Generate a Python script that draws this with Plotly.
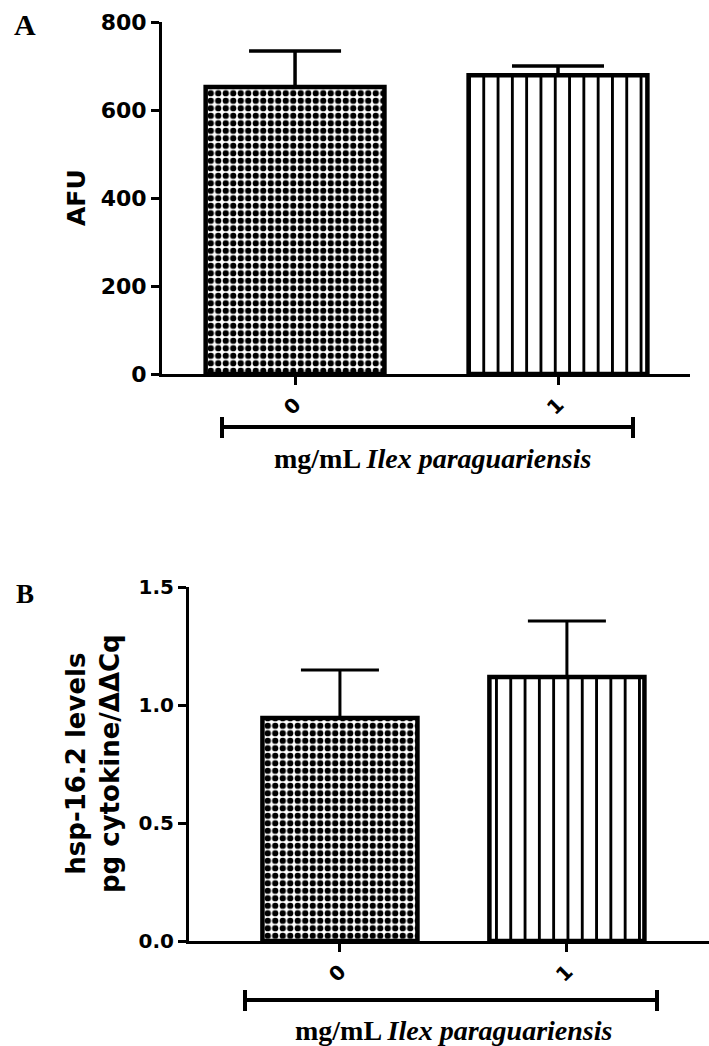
import plotly.graph_objects as go

W, H = 709, 1046

# ---- data ----
categories = ["0", "1"]
afu_mean = [652, 679]
afu_sem = [82, 21]
hsp_mean = [0.945, 1.119]
hsp_sem = [0.203, 0.237]
afu_ticks = [0, 200, 400, 600, 800]
hsp_ticks = [0.0, 0.5, 1.0, 1.5]

xpos = [0, 1]

def px_x(p):
    return p / W

def px_y(p):
    return 1 - p / H

fig = go.Figure()

pattern = dict(shape=[".", "|"], size=[7.5, 14.3], solidity=[0.55, 0.2],
               fgcolor="black", bgcolor="white", fillmode="replace")

fig.add_trace(go.Bar(
    x=xpos, y=afu_mean, width=0.68,
    marker=dict(color="white", line=dict(color="black", width=4.5), pattern=pattern),
    error_y=dict(type="data", array=afu_sem, arrayminus=[0, 0], symmetric=False,
                 color="black", thickness=3.5, width=46),
    xaxis="x", yaxis="y", showlegend=False,
))
fig.add_trace(go.Bar(
    x=xpos, y=hsp_mean, width=0.683,
    marker=dict(color="white", line=dict(color="black", width=4.5), pattern=pattern),
    error_y=dict(type="data", array=hsp_sem, arrayminus=[0, 0], symmetric=False,
                 color="black", thickness=3, width=39),
    xaxis="x2", yaxis="y2", showlegend=False,
))

tickfont_a = dict(family="DejaVu Sans", size=22, color="black", weight="bold")
tickfont_b = dict(family="DejaVu Sans", size=20, color="black", weight="bold")
axis_common = dict(showline=True, linecolor="black", linewidth=3, ticks="outside",
                   ticklen=8, tickwidth=3, tickcolor="black", showgrid=False,
                   zeroline=False, automargin=False)

fig.update_layout(
    width=W, height=H, margin=dict(l=0, r=0, t=0, b=0, autoexpand=False),
    paper_bgcolor="white", plot_bgcolor="white",
    xaxis=dict(domain=[px_x(162), px_x(690)], range=[-0.506, 1.502],
               tickvals=xpos, ticktext=categories, tickangle=-45,
               tickfont=dict(family="DejaVu Sans", size=20, color="black", weight="bold"),
               anchor="y", **axis_common),
    yaxis=dict(domain=[px_y(374), px_y(22)], range=[0, 800],
               tickvals=afu_ticks, tickfont=tickfont_a, anchor="x", **axis_common),
    xaxis2=dict(domain=[px_x(189), 1.0], range=[-0.665, 1.626],
                tickvals=xpos, ticktext=categories, tickangle=-45,
                tickfont=dict(family="DejaVu Sans", size=20, color="black", weight="bold"),
                anchor="y2", **axis_common),
    yaxis2=dict(domain=[px_y(941), px_y(587)], range=[0, 1.5],
                tickvals=hsp_ticks, tickformat=".1f", tickfont=tickfont_b,
                anchor="x2", **axis_common),
)

serif = dict(family="Liberation Serif", color="black")
sans = dict(family="DejaVu Sans", color="black", weight="bold")

annotations = [
    dict(text="<b>A</b>", x=px_x(25), y=px_y(24), font=dict(size=30, **serif)),
    dict(text="<b>B</b>", x=px_x(25), y=px_y(594), font=dict(size=27, **serif)),
    dict(text="AFU", x=px_x(77), y=px_y(198), textangle=-90, font=dict(size=25, **sans)),
    dict(text="hsp-16.2 levels<br>pg cytokine/ΔΔCq", x=px_x(93), y=px_y(764),
         textangle=-90, font=dict(size=26, **sans)),
    dict(text="<b>mg/mL <i>Ilex paraguariensis</i></b>", x=px_x(432), y=px_y(458),
         font=dict(size=28, **serif)),
    dict(text="<b>mg/mL <i>Ilex paraguariensis</i></b>", x=px_x(453), y=px_y(1030),
         font=dict(size=28, **serif)),
]
for a in annotations:
    a.update(xref="paper", yref="paper", showarrow=False, xanchor="center", yanchor="middle")
fig.update_layout(annotations=annotations)

# group brackets
shapes = []
for (xl, xr, yc) in [(222, 633, 427), (245, 657, 1000)]:
    line = dict(color="black", width=4)
    shapes.append(dict(type="line", xref="paper", yref="paper",
                       x0=px_x(xl), x1=px_x(xr), y0=px_y(yc), y1=px_y(yc), line=line))
    for xe in (xl, xr):
        shapes.append(dict(type="line", xref="paper", yref="paper",
                           x0=px_x(xe), x1=px_x(xe), y0=px_y(yc - 10), y1=px_y(yc + 11),
                           line=line))
fig.update_layout(shapes=shapes)

fig.write_html("out.html")
